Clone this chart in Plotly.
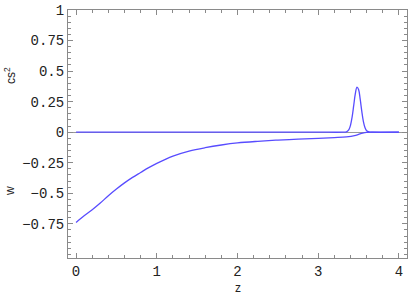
import plotly.graph_objects as go

# w(z)
z_w = [0, 0.1, 0.2, 0.3, 0.4, 0.5, 0.6, 0.7, 0.8, 0.9, 1.0, 1.2, 1.4, 1.6,
       1.8, 2.0, 2.25, 2.5, 2.75, 3.0, 3.2, 3.35, 3.45, 3.5, 3.55, 3.6, 3.7, 4.0]
w = [-0.74, -0.685, -0.635, -0.58, -0.52, -0.465, -0.415, -0.37, -0.33, -0.29,
     -0.255, -0.196, -0.155, -0.127, -0.105, -0.088, -0.075, -0.065, -0.057,
     -0.05, -0.044, -0.038, -0.028, -0.018, -0.008, -0.002, 0.0, 0.0]

# cs^2(z): flat zero with a narrow peak near z = 3.48
z_cs = [0, 1, 2, 3, 3.3, 3.35, 3.38, 3.40, 3.42, 3.44, 3.46, 3.48, 3.50,
        3.52, 3.54, 3.56, 3.58, 3.60, 3.63, 3.66, 4.0]
cs2 = [0, 0, 0, 0, 0.0, 0.003, 0.021, 0.057, 0.124, 0.219, 0.315, 0.369,
       0.349, 0.27, 0.17, 0.087, 0.036, 0.012, 0.002, 0.0, 0.0]

y_ticks = [1, 0.75, 0.5, 0.25, 0, -0.25, -0.5, -0.75]
y_text = ["1", "0.75", "0.5", "0.25", "0", "\u22120.25", "\u22120.5", "\u22120.75"]
x_ticks = [0, 1, 2, 3, 4]

W, H = 409, 300
L, R, T, B = 68, 2, 10, 42

blue = "rgb(88,76,255)"
frame = "#8a8a8a"
tickfont = dict(family="Liberation Mono", size=14, color="#222")
labfont = dict(family="Liberation Sans", size=12, color="#222")


def px(x, y):
    # pixel position -> paper coordinates
    return (x - L) / (W - L - R), 1 - (y - T) / (H - T - B)


fig = go.Figure()
fig.add_trace(go.Scatter(x=z_w, y=w, mode="lines", line=dict(color=blue, width=1.3, shape="spline")))
fig.add_trace(go.Scatter(x=z_cs, y=cs2, mode="lines", line=dict(color=blue, width=1.3, shape="spline")))

ann = []
for txt, (x, y), ang in [("cs<sup>2</sup>", (10, 76), -90), ("w", (10, 191), -90), ("z", (238, 288), 0)]:
    ax, ay = px(x, y)
    ann.append(dict(text=txt, x=ax, y=ay, xref="paper", yref="paper", showarrow=False,
                    textangle=ang, font=labfont, xanchor="center", yanchor="middle"))

fig.update_layout(
    width=W, height=H,
    margin=dict(l=L, r=R, t=T, b=B),
    plot_bgcolor="white", paper_bgcolor="white",
    showlegend=False,
    xaxis=dict(
        range=[-0.1, 4.1], tickvals=x_ticks, ticks="inside", ticklen=5,
        tickcolor=frame, showgrid=False, zeroline=False, automargin=False,
        showline=True, linecolor=frame, linewidth=1, mirror="allticks",
        tickfont=tickfont,
        minor=dict(dtick=0.2, ticks="inside", ticklen=3, tickcolor=frame, showgrid=False),
    ),
    yaxis=dict(
        range=[-1.03, 1.0], tickvals=y_ticks, ticktext=y_text, ticks="inside",
        ticklen=5, tickcolor=frame, showgrid=False, automargin=False,
        zeroline=True, zerolinecolor="#999", zerolinewidth=1,
        showline=True, linecolor=frame, linewidth=1, mirror="allticks",
        tickfont=tickfont,
        minor=dict(dtick=0.05, ticks="inside", ticklen=3, tickcolor=frame, showgrid=False),
    ),
    annotations=ann,
)

fig.write_html("out.html", config={"displayModeBar": False},
               post_script="document.body.style.margin='0';")
